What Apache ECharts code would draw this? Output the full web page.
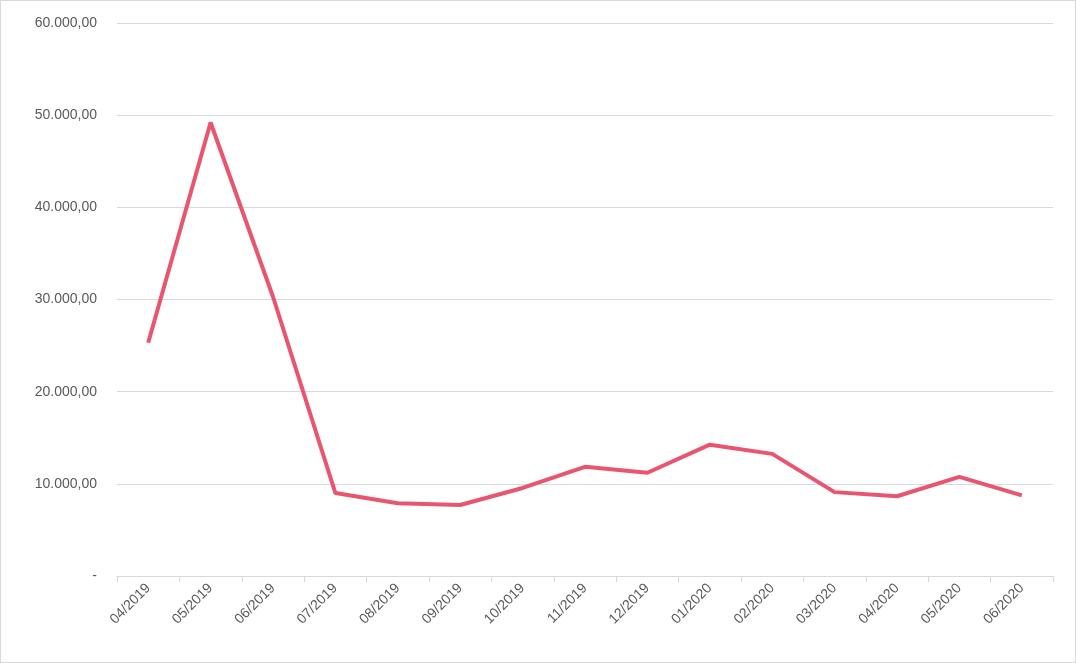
<!DOCTYPE html>
<html>
<head>
<meta charset="utf-8">
<script src="https://cdn.jsdelivr.net/npm/echarts@6/dist/echarts.min.js"></script>
<style>
  html, body { margin: 0; padding: 0; background: #fff; }
  #chart { width: 1074px; height: 661px; border: 1px solid #d9d9d9; }
</style>
</head>
<body>
<div id="chart"></div>
<script>
const months = ['04/2019', '05/2019', '06/2019', '07/2019', '08/2019', '09/2019', '10/2019',
  '11/2019', '12/2019', '01/2020', '02/2020', '03/2020', '04/2020', '05/2020', '06/2020'];
const values = [25300, 49200, 30300, 9000, 7900, 7700, 9550, 11850, 11200, 14250, 13250, 9100, 8650, 10750, 8750];

function fmt(v) {
  if (v === 0) return '-';
  let s = Math.round(v).toString().replace(/\B(?=(\d{3})+(?!\d))/g, '.');
  return s + ',00';
}

const chart = echarts.init(document.getElementById('chart'));
chart.setOption({
  animation: false,
  grid: { left: 116, right: 22, top: 22, bottom: 86 },
  xAxis: {
    type: 'category',
    data: months,
    boundaryGap: true,
    axisLine: { lineStyle: { color: '#d9d9d9' } },
    axisTick: { show: true, length: 6, lineStyle: { color: '#d9d9d9' } },
    axisLabel: { rotate: 45, color: '#595959', fontSize: 14, fontFamily: 'Liberation Sans', margin: 10 }
  },
  yAxis: {
    type: 'value',
    min: 0, max: 60000, interval: 10000,
    axisLine: { show: false },
    axisTick: { show: false },
    splitLine: { lineStyle: { color: '#d9d9d9' } },
    axisLabel: { formatter: fmt, color: '#595959', fontSize: 14, fontFamily: 'Liberation Sans', margin: 20 }
  },
  series: [{
    type: 'line',
    data: values,
    symbol: 'none',
    lineStyle: { color: '#E9556F', width: 4 }
  }]
});
</script>
</body>
</html>
